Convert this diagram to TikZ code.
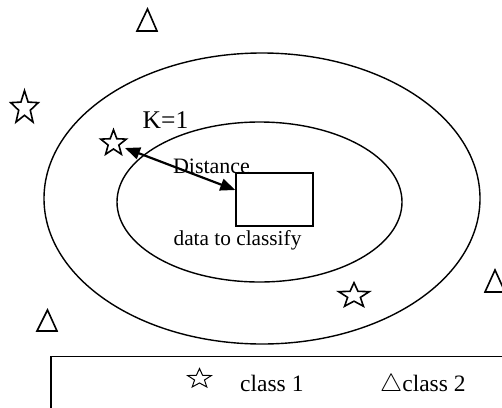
\documentclass[tikz,border=0pt]{standalone}
\usepackage{fontspec}
\setmainfont{Liberation Serif}
\usetikzlibrary{arrows.meta}
\tikzset{
  outline/.style={line width=1.4pt},
  starpic/.pic={\draw[line width=1.6pt,line join=miter]
     (-90:1) -- (-54:0.42) -- (-18:1) -- (18:0.42) -- (54:1) -- (90:0.42)
     -- (126:1) -- (162:0.42) -- (198:1) -- (234:0.42) -- cycle;},
  legstar/.pic={\draw[line width=1pt,line join=miter]
     (-90:1) -- (-54:0.42) -- (-18:1) -- (18:0.42) -- (54:1) -- (90:0.42)
     -- (126:1) -- (162:0.42) -- (198:1) -- (234:0.42) -- cycle;},
  tri/.style={line width=1.6pt,line join=miter},
  lbl/.style={inner sep=0pt,anchor=base},
}
\begin{document}
\begin{tikzpicture}[x=1pt,y=-1pt]
\useasboundingbox (0,0) rectangle (502,407);
\clip (0,0) rectangle (502,407);
% ellipses
\draw[outline] (262,198.5) ellipse [x radius=218, y radius=145.5];
\draw[outline] (259.5,202) ellipse [x radius=142.5, y radius=80];
% data to classify
\node[draw,outline,minimum width=77pt,minimum height=53pt,inner sep=0pt] (data) at (274.5,199.5) {};
\node[lbl] (datalbl) at (237.5,245.5) {\fontsize{21.3}{25}\selectfont data to classify};
% stars
\pic[xscale=14.5,yscale=17.4] at (24.5,108) {starpic};
\pic[xscale=13.4,yscale=13.5] at (113.5,143.3) {starpic};
\pic[xscale=16,yscale=13] at (354,295.7) {starpic};
\coordinate (nn) at (125,148);
\coordinate (dd) at (data.west |- 0,190);
% triangles
\draw[tri] (137,31) -- (157,31) -- (147.5,9) -- cycle;
\draw[tri] (37,331) -- (57,331) -- (47.5,310) -- cycle;
\draw[tri] (485,292) -- (505,292) -- (495,270) -- cycle;
% labels
\node[lbl] (k) at (165.5,128) {\fontsize{25.5}{30}\selectfont K=1};
\node[lbl] (dlbl) at (211.5,173) {\fontsize{22}{26}\selectfont Distance};
% distance arrow
\draw[line width=2.2pt,{Triangle[length=15pt,width=12pt]}-{Triangle[length=15pt,width=12pt]}] (nn) -- (dd);
% legend
\draw[line width=1.3pt] (51,356.5) rectangle (530,440);
\pic[xscale=12.4,yscale=10.2] at (199.5,378.7) {legstar};
\node[lbl,anchor=base west] (c1) at (240,391) {\fontsize{23.5}{28}\selectfont class 1};
\node[lbl,anchor=base west] (c2) at (380,391) {\fontsize{23.5}{28}\selectfont $\triangle$class 2};
\end{tikzpicture}
\end{document}
